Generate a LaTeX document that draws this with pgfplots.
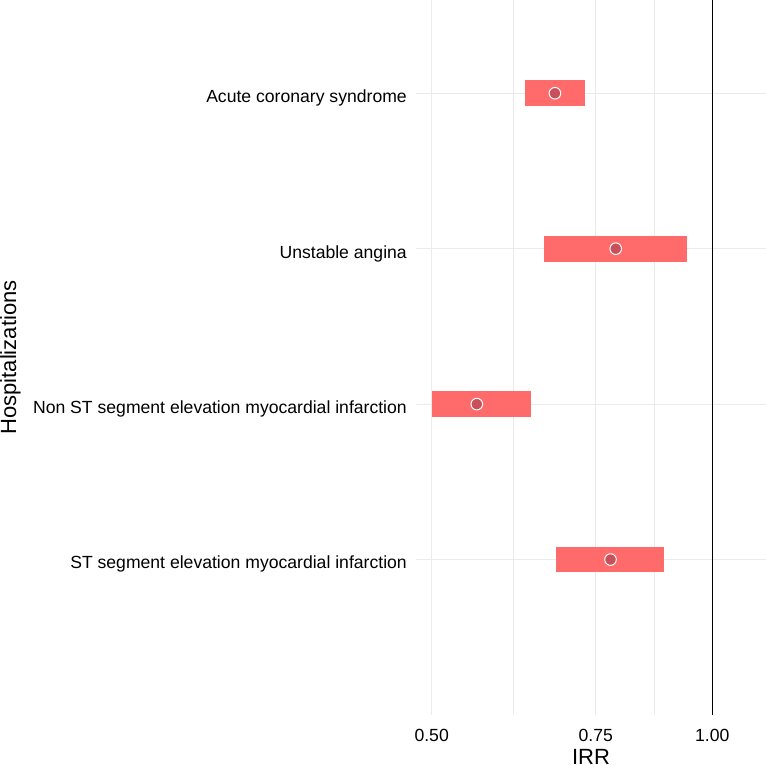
\documentclass[border=0pt]{standalone}
\usepackage{fontspec}
\setmainfont{Liberation Sans}
\usepackage{pgfplots}
\pgfplotsset{compat=1.18}
\definecolor{barred}{HTML}{FF6B6B}
\definecolor{ptred}{HTML}{C8505A}
\definecolor{gridgray}{HTML}{EBEBEB}
\begin{document}
\begin{tikzpicture}
\begin{axis}[
  scale only axis, width=350pt, height=715pt,
  at={(0pt,0pt)}, anchor=south west,
  xmode=log, xmin=0.481, xmax=1.142, ymin=0, ymax=4.6,
  axis line style={draw=none}, tick style={draw=none},
  xtick={0.5,0.75,1}, xticklabels={0.50,0.75,1.00},
  minor xtick={0.6124,0.8660},
  ytick={1,2,3,4},
  yticklabels={ST segment elevation myocardial infarction,Non ST segment elevation myocardial infarction,Unstable angina,Acute coronary syndrome},
  grid=both,
  major grid style={gridgray, line width=1pt},
  minor grid style={gridgray, line width=0.9pt},
  tick label style={font=\fontsize{17.6}{20}\selectfont, text=black},
  xticklabel style={anchor=base, inner sep=0pt, yshift=-26.7pt},
  yticklabel style={anchor=base east, inner sep=0pt, xshift=-9pt, yshift=-9.4pt},
  xlabel={IRR}, ylabel={Hospitalizations},
  label style={font=\fontsize{22}{26}\selectfont},
  xlabel style={at={(axis description cs:0.5,-0.06993)}, anchor=base, inner sep=0pt},
  ylabel style={at={(axis description cs:-1.18857,0.5)}, rotate=0, anchor=north, inner sep=0pt},
  clip=false,
]
% interval bars (lo, hi) per row
\addplot[draw=none, fill=barred] coordinates {(0.630,3.9174) (0.730,3.9174) (0.730,4.0826) (0.630,4.0826)} -- cycle;
\addplot[draw=none, fill=barred] coordinates {(0.660,2.9174) (0.939,2.9174) (0.939,3.0826) (0.660,3.0826)} -- cycle;
\addplot[draw=none, fill=barred] coordinates {(0.500,1.9174) (0.639,1.9174) (0.639,2.0826) (0.500,2.0826)} -- cycle;
\addplot[draw=none, fill=barred] coordinates {(0.679,0.9174) (0.888,0.9174) (0.888,1.0826) (0.679,1.0826)} -- cycle;
% reference line
\addplot[black, line width=1pt] coordinates {(1,0) (1,4.6)};
% point estimates
\addplot[only marks, mark=*, mark size=5.8pt, mark options={fill=ptred, draw=white, line width=1pt}]
  coordinates {(0.678,4) (0.788,3) (0.559,2) (0.778,1)};
\end{axis}
\pgfresetboundingbox
\path[use as bounding box] (-416pt,-50pt) rectangle (350pt,715pt);
\end{tikzpicture}
\end{document}
